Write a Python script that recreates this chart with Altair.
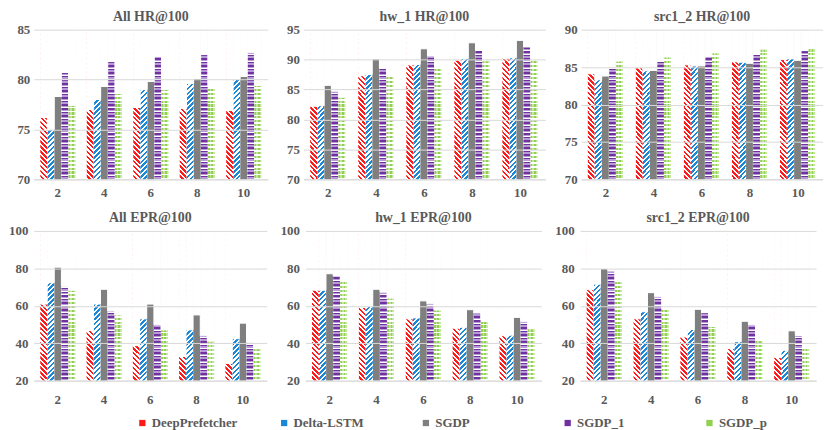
import altair as alt
import pandas as pd

categories = ["2", "4", "6", "8", "10"]
series = ["DeepPrefetcher", "Delta-LSTM", "SGDP", "SGDP_1", "SGDP_p"]

# values per panel: one list per series (DeepPrefetcher, Delta-LSTM, SGDP, SGDP_1, SGDP_p)
all_hr = [
    [76.2, 77.0, 77.2, 77.1, 76.9],
    [75.0, 78.0, 79.0, 79.6, 80.0],
    [78.3, 79.3, 79.8, 80.1, 80.3],
    [80.7, 81.8, 82.3, 82.5, 82.7],
    [77.4, 78.6, 79.0, 79.3, 79.4],
]
hw1_hr = [
    [82.2, 87.3, 89.1, 89.9, 90.2],
    [82.3, 87.5, 89.2, 90.2, 90.3],
    [85.7, 90.1, 91.8, 92.8, 93.2],
    [84.7, 88.6, 90.6, 91.6, 92.1],
    [83.7, 87.3, 88.8, 89.8, 89.9],
]
src1_hr = [
    [84.1, 84.9, 85.3, 85.7, 86.0],
    [83.3, 84.5, 85.15, 85.65, 86.1],
    [83.8, 84.55, 85.15, 85.5, 85.9],
    [84.9, 85.75, 86.4, 86.8, 87.2],
    [85.8, 86.35, 86.9, 87.4, 87.5],
]
all_epr = [
    [60.9, 46.8, 38.7, 32.9, 29.2],
    [72.3, 60.9, 53.0, 47.1, 42.4],
    [80.6, 68.8, 60.9, 55.1, 50.7],
    [70.4, 57.2, 49.8, 44.0, 40.3],
    [68.3, 55.1, 47.1, 41.1, 37.1],
]
hw1_epr = [
    [68.3, 59.1, 53.0, 48.0, 44.0],
    [68.3, 59.6, 53.5, 48.5, 44.3],
    [77.1, 68.8, 62.6, 57.9, 53.8],
    [75.9, 67.2, 61.1, 56.1, 51.5],
    [73.6, 64.1, 57.7, 52.4, 47.7],
]
src1_epr = [
    [68.6, 53.0, 43.3, 37.1, 32.3],
    [71.5, 56.8, 47.3, 40.8, 36.2],
    [79.9, 67.0, 58.1, 51.7, 46.6],
    [78.5, 64.8, 56.3, 49.8, 44.1],
    [72.9, 58.6, 48.9, 42.2, 37.3],
]

titles = ["All HR@100", "hw_1 HR@100", "src1_2 HR@100",
          "All EPR@100", "hw_1 EPR@100", "src1_2 EPR@100"]
panel_values = [all_hr, hw1_hr, src1_hr, all_epr, hw1_epr, src1_epr]
domains = [[70, 85], [70, 95], [70, 90], [20, 100], [20, 100], [20, 100]]
tick_values = [[70, 75, 80, 85], [70, 75, 80, 85, 90, 95], [70, 75, 80, 85, 90],
               [20, 40, 60, 80, 100], [20, 40, 60, 80, 100], [20, 40, 60, 80, 100]]

RED = "#ff1a1a"
BLUE = "#1a87d7"
GRAY = "#7f7f7f"
PURPLE = "#7030a0"
LAVENDER = "#b79bd6"
GREEN = "#92d050"
legend_colors = [RED, BLUE, GRAY, PURPLE, GREEN]

FONT = "Liberation Serif"
TXT = "#595959"
GRID = "#d9d9d9"

PAD_IN, PAD_OUT, SUB_PAD = 0.245, 0.14, 0.03
H = 151


def stops_for(segments, n):
    stops = []
    for k in range(n):
        pos = k / n
        for color, frac in segments:
            end = pos + frac / n
            stops.append({"offset": round(min(pos, 1), 5), "color": color})
            stops.append({"offset": round(min(end, 1), 5), "color": color})
            pos = end
    return stops


def diag(color, w, h, down, period=5.0):
    a = w / h
    s = (1 + a) / (1 + a * a)
    n = max(1, round(h * (1 + a) / period))
    st = stops_for([(color, 0.5), ("#ffffff", 0.5)], n)
    if down:
        return {"gradient": "linear", "x1": 1, "y1": 0, "x2": 1 - a * s, "y2": s, "stops": st}
    return {"gradient": "linear", "x1": 0, "y1": 0, "x2": a * s, "y2": s, "stops": st}


def horiz(segments, h, period):
    n = max(1, round(h / period))
    return {"gradient": "linear", "x1": 0, "y1": 0, "x2": 0, "y2": 1,
            "stops": stops_for(segments, n)}


def vert(segments, n):
    return {"gradient": "linear", "x1": 0, "y1": 0, "x2": 1, "y2": 0,
            "stops": stops_for(segments, n)}


def panel(idx, width, ypad, xpad, with_legend=False):
    vals = panel_values[idx]
    lo, hi = domains[idx]
    rows = []
    for si, s in enumerate(series):
        for ci, c in enumerate(categories):
            rows.append({"cat": c, "series": s, "value": vals[si][ci],
                         "bottom": lo, "top": hi})
    df = pd.DataFrame(rows)

    step = width / (5 - PAD_IN + 2 * PAD_OUT)
    bw = step * (1 - PAD_IN)
    w = bw / (5 - SUB_PAD) * (1 - SUB_PAD)

    xenc = alt.X("cat:N", sort=categories,
                 scale=alt.Scale(paddingInner=PAD_IN, paddingOuter=PAD_OUT),
                 axis=alt.Axis(title=None, labelAngle=0, ticks=False, domain=True,
                               domainColor=GRID, labelFont=FONT, labelFontSize=13,
                               labelFontWeight="bold", labelColor=TXT, labelPadding=xpad,
                               grid=False))
    xoff = alt.XOffset("series:N", sort=series,
                       scale=alt.Scale(domain=series, paddingInner=SUB_PAD, paddingOuter=0))
    yscale = alt.Scale(domain=[lo, hi], nice=False, zero=False)
    yax = alt.Axis(title=None, values=tick_values[idx], grid=True, gridColor=GRID,
                   gridWidth=1, domain=False, ticks=False, labelFont=FONT,
                   labelFontSize=13, labelFontWeight="bold", labelColor=TXT,
                   labelPadding=ypad, zindex=1, minExtent=0)

    fills = {
        "DeepPrefetcher": [diag(RED, w, H, True)],
        "Delta-LSTM": [diag(BLUE, w, H, False)],
        "SGDP": [GRAY],
        "SGDP_1": [horiz([(PURPLE, 0.42), (LAVENDER, 0.42), ("#ffffff", 0.16)], H, 3.6)],
        "SGDP_p": [horiz([(GREEN, 0.55), ("#ffffff", 0.45)], H, 4.0),
                   vert([("rgba(255,255,255,0)", 0.5), ("rgba(255,255,255,0.45)", 0.5)], 2)],
    }

    layers = []
    for s in series:
        for f in fills[s]:
            layer = alt.Chart(df).transform_filter(
                alt.datum.series == s
            ).mark_bar(fill=f, strokeWidth=0).encode(
                x=xenc, xOffset=xoff,
                y=alt.Y("bottom:Q", scale=yscale, axis=yax), y2="top:Q"
            )
            layers.append(layer)

    mask = alt.Chart(df).mark_bar(fill="#ffffff", stroke="#ffffff", strokeWidth=1).encode(
        x=xenc, xOffset=xoff, y=alt.Y("value:Q", scale=yscale, axis=yax), y2="top:Q"
    )
    layers.append(mask)

    if with_legend:
        leg = alt.Chart(df).mark_bar().encode(
            x=xenc, xOffset=xoff,
            y=alt.Y("bottom:Q", scale=yscale, axis=yax), y2="bottom:Q",
            color=alt.Color("series:N", sort=series,
                            scale=alt.Scale(domain=series, range=legend_colors),
                            legend=alt.Legend(orient="none", legendX=103, legendY=390,
                                              direction="horizontal", columns=5,
                                              title=None, symbolType="square",
                                              symbolSize=40, symbolStrokeWidth=0,
                                              labelFont=FONT, labelFontSize=13,
                                              labelFontWeight="bold", labelColor=TXT,
                                              columnPadding=40, gridAlign="all",
                                              labelOffset=3)),
        )
        layers.append(leg)

    return alt.layer(*layers).properties(
        width=width, height=H,
        title=alt.TitleParams(titles[idx], font=FONT, fontSize=14, fontWeight="bold",
                              color=TXT, offset=0, anchor="middle"),
    )


row1 = alt.hconcat(panel(0, 236, 4, 7), panel(1, 244, 4, 7), panel(2, 244, 4, 7),
                   spacing=19, bounds="full")
row2 = alt.hconcat(panel(3, 235, 6, 13, with_legend=True), panel(4, 238, 6, 13),
                   panel(5, 238, 6, 13), spacing=13, bounds="full")

chart = alt.concat(row1, row2, columns=1, align="none", spacing=12, bounds="full").configure_view(
    strokeWidth=0
).properties(padding=0)

chart.save("out.html", embed_options={"renderer": "svg", "actions": False})
